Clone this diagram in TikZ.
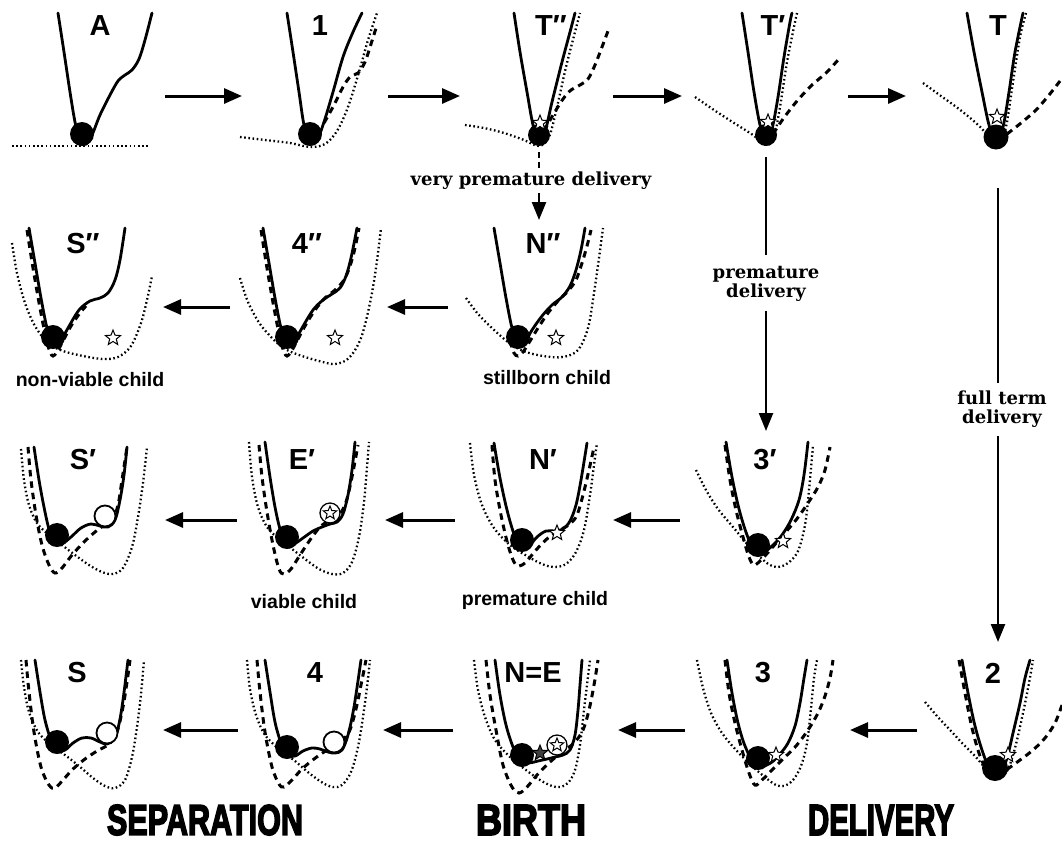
\documentclass[tikz,border=0pt]{standalone}
\usepackage{fontspec}
\usepackage{graphicx}
\usetikzlibrary{arrows.meta,shapes.geometric}
\newfontfamily\labfont{Liberation Sans}
\newfontfamily\serfont{DejaVu Serif}
\newfontfamily\heavyfont{Liberation Sans Bold}[FakeBold=4]
\tikzset{
  solidc/.style={line width=2.8pt, line join=round, line cap=round},
  dashc/.style={line width=3pt, dash pattern=on 6.5pt off 5pt},
  dotc/.style={line width=2.3pt, dash pattern=on 1.6pt off 2.6pt},
  arr/.style={line width=3pt, -{Triangle[length=18pt,width=15pt]}},
  varr/.style={line width=2.4pt, -{Triangle[length=18pt,width=14pt]}},
  vline/.style={line width=2.4pt},
  lab/.style={font=\labfont\bfseries\fontsize{29}{29}\selectfont, inner sep=0pt},
  small/.style={font=\labfont\bfseries\fontsize{19.5}{20}\selectfont, inner sep=0pt},
  ser/.style={font=\serfont\bfseries\fontsize{18}{22}\selectfont, inner sep=0pt, align=center},
  ballst/.style={circle, fill=black, minimum size=24pt, inner sep=0pt},
  stst/.style={star, star points=5, star point ratio=2.3, draw, fill=white, line width=1pt, minimum size=16pt, inner sep=0pt},
  dstst/.style={star, star points=5, star point ratio=2.3, draw, fill=black!75, line width=1pt, minimum size=16pt, inner sep=0pt},
  ocst/.style={circle, draw, fill=white, line width=1.8pt, minimum size=21pt, inner sep=0pt},
  pl/.style={smooth, tension=0.55}
}
\begin{document}
\begin{tikzpicture}[x=1pt,y=-1pt]
\useasboundingbox (0,0) rectangle (1062,847);
\fill[white] (0,0) rectangle (1062,847);

%================ ROW 1 ================
% A
\begin{scope}[shift={(82,137)}]
\draw[dotc] (-70,9) -- (66,9);
\draw[solidc] plot[pl] coordinates {(-24,-124) (-18,-85) (-12,-45) (-7,-15) (-2,5) (4,7) (10,-2) (18,-22) (28,-42) (36,-56) (43,-62) (50,-67) (57,-78) (63,-97) (70,-124)};
\node[ballst] (bA) at (0,-3) {};
\end{scope}
\node[lab] (lA) at (100,26) {A};
% 1
\begin{scope}[shift={(310,137)}]
\draw[dotc] plot[pl] coordinates {(-70,0) (-45,3) (-20,6) (0,10) (15,7) (27,-6) (38,-30) (49,-65) (58,-97) (67,-124)};
\draw[dashc] plot[pl] coordinates {(14,-14) (24,-32) (33,-50) (40,-60) (48,-64) (55,-75) (61,-93) (67,-112)};
\draw[solidc] plot[pl] coordinates {(-23,-124) (-17,-85) (-11,-45) (-6,-12) (0,6) (7,3) (14,-15) (23,-45) (33,-80) (43,-105) (52,-124)};
\node[ballst] (b1) at (0,-3) {};
\end{scope}
\node[lab] (l1) at (320,26) {1};
% T''
\begin{scope}[shift={(539,137)}]
\draw[dotc] plot[pl] coordinates {(-74,-12) (-55,-9) (-35,-4) (-15,3) (0,9) (10,0) (18,-30) (27,-70) (36,-105) (41,-124)};
\draw[dashc] plot[pl] coordinates {(5,-6) (14,-22) (24,-38) (32,-47) (41,-52) (49,-58) (56,-72) (63,-90) (69,-106)};
\draw[solidc] plot[pl] coordinates {(-25,-124) (-19,-85) (-12,-45) (-6,-12) (0,5) (6,-5) (13,-35) (23,-75) (31,-105) (36,-124)};
\node[ballst,minimum size=22pt] (bT2) at (0,-2) {};
\node[stst] (sT2) at (1,-14) {};
\end{scope}
\node[lab] (lT2) at (551,26) {T″};
% T'
\begin{scope}[shift={(766,137)}]
\draw[dotc] plot[pl] coordinates {(-71,-40) (-52,-27) (-32,-14) (-13,-2) (0,8) (8,0) (14,-30) (21,-75) (28,-110) (31,-124)};
\draw[dashc] plot[pl] coordinates {(7,-3) (17,-18) (31,-36) (46,-52) (60,-64) (72,-77)};
\draw[solidc] plot[pl] coordinates {(-24,-124) (-18,-85) (-12,-45) (-6,-12) (0,5) (6,-8) (12,-40) (18,-80) (24,-115) (26,-124)};
\node[ballst,minimum size=22pt] (bT1) at (0,-2) {};
\node[stst] (sT1) at (2,-15) {};
\end{scope}
\node[lab] (lT1) at (773,26) {T′};
% T
\begin{scope}[shift={(996,137)}]
\draw[dotc] plot[pl] coordinates {(-73,-54) (-55,-41) (-37,-28) (-20,-14) (-6,0) (3,7) (10,-10) (17,-55) (24,-100) (30,-124)};
\draw[dashc] plot[pl] coordinates {(11,-3) (25,-14) (40,-27) (53,-42) (64,-56)};
\draw[solidc] plot[pl] coordinates {(-29,-124) (-22,-85) (-14,-45) (-7,-12) (0,6) (7,-10) (13,-45) (19,-85) (27,-124)};
\node[ballst,minimum size=25pt] (bT) at (0,0) {};
\node[stst] (sT) at (1,-20) {};
\end{scope}
\node[lab] (lT) at (998,26) {T};

% row 1 arrows
\coordinate (a1s) at (165,96); \coordinate (a1e) at (242,96);
\coordinate (a2s) at (388,96); \coordinate (a2e) at (460,96);
\coordinate (a3s) at (613,96); \coordinate (a3e) at (682,96);
\coordinate (a4s) at (848,96); \coordinate (a4e) at (906,96);
\draw[arr] (a1s) -- (a1e);
\draw[arr] (a2s) -- (a2e);
\draw[arr] (a3s) -- (a3e);
\draw[arr] (a4s) -- (a4e);

% vertical: very premature
\coordinate (v1a) at (539,152); \coordinate (v1b) at (539,170);
\coordinate (v1c) at (539,193); \coordinate (v1d) at (539,220);
\draw[vline, dash pattern=on 6pt off 4pt] (v1a) -- (v1b);
\node[ser] (tvp) at (531,181) {very premature delivery};
\draw[varr] (v1c) -- (v1d);
% vertical: premature
\coordinate (v2a) at (766,157); \coordinate (v2b) at (766,255);
\coordinate (v2c) at (766,311); \coordinate (v2d) at (766,431);
\draw[vline] (v2a) -- (v2b);
\node[ser] (tpd) at (766,284) {premature\\[-3pt]delivery};
\draw[varr] (v2c) -- (v2d);
% vertical: full term
\coordinate (v3a) at (998,188); \coordinate (v3b) at (998,383);
\coordinate (v3c) at (998,436); \coordinate (v3d) at (998,642);
\draw[vline] (v3a) -- (v3b);
\node[ser] (tft) at (1002,409) {full term\\[-3pt]delivery};
\draw[varr] (v3c) -- (v3d);

%================ ROW 2 ================
% S''
\begin{scope}[shift={(53,338)}]
\draw[dotc] plot[pl] coordinates {(-41,-95) (-36,-65) (-28,-35) (-18,-12) (-5,5) (10,13) (30,18) (50,21) (65,19) (78,8) (88,-15) (94,-38) (99,-62)};
\draw[dashc] plot[pl] coordinates {(-26,-108) (-20,-70) (-13,-30) (-7,0) (-3,14) (0,18) (4,14) (10,3) (18,-12) (27,-25) (33,-32)};
\draw[solidc] plot[pl] coordinates {(-24,-110) (-18,-75) (-12,-40) (-6,-10) (0,7) (7,4) (15,-10) (26,-28) (37,-37) (47,-40) (55,-45) (62,-58) (67,-78) (72,-110)};
\node[ballst] (bS2) at (0,-1) {};
\node[stst] (sS2) at (60,0) {};
\end{scope}
\node[lab] (lS2) at (83,244) {S″};
% 4''
\begin{scope}[shift={(287,338)}]
\draw[dotc] plot[pl] coordinates {(-47,-60) (-39,-36) (-27,-14) (-12,3) (0,12) (15,18) (32,23) (48,26) (62,20) (74,0) (83,-35) (89,-70) (94,-110)};
\draw[dashc] plot[pl] coordinates {(-26,-108) (-20,-70) (-13,-30) (-7,0) (-3,14) (0,18) (4,14) (10,3) (18,-12) (28,-28) (38,-40) (48,-48) (57,-58) (63,-72) (68,-90) (72,-110)};
\draw[solidc] plot[pl] coordinates {(-24,-110) (-18,-75) (-12,-40) (-6,-10) (0,7) (7,4) (15,-10) (26,-28) (36,-38) (45,-44) (53,-50) (59,-62) (64,-80) (70,-110)};
\node[ballst] (b42) at (0,-1) {};
\node[stst] (s42) at (48,0) {};
\end{scope}
\node[lab] (l42) at (307,244) {4″};
% N''
\begin{scope}[shift={(518,338)}]
\draw[dotc] plot[pl] coordinates {(-52,-40) (-40,-24) (-25,-9) (-10,4) (5,13) (25,18) (45,19) (60,12) (70,-10) (76,-45) (81,-80) (85,-110)};
\draw[dashc] plot[pl] coordinates {(-8,3) (-4,15) (0,18) (5,14) (12,3) (20,-10) (30,-25) (40,-37) (50,-47) (58,-58) (64,-75) (69,-92) (73,-108)};
\draw[solidc] plot[pl] coordinates {(-24,-110) (-18,-75) (-12,-40) (-6,-10) (0,7) (7,4) (14,-8) (24,-22) (34,-33) (44,-41) (52,-52) (58,-68) (63,-88) (67,-110)};
\node[ballst] (bN2) at (0,-1) {};
\node[stst] (sN2) at (38,0) {};
\end{scope}
\node[lab] (lN2) at (543,244) {N″};

\coordinate (b1s) at (230,307); \coordinate (b1e) at (163,307);
\coordinate (b2s) at (448,307); \coordinate (b2e) at (387,307);
\draw[arr] (b1s) -- (b1e);
\draw[arr] (b2s) -- (b2e);
\node[small] (tnv) at (90,380) {non-viable child};
\node[small] (tsb) at (547,378) {stillborn child};

%================ ROW 3 ================
% S'
\begin{scope}[shift={(57,535)}]
\draw[dotc] plot[pl] coordinates {(-36,-86) (-33,-55) (-28,-30) (-20,-12) (-8,0) (5,10) (18,20) (32,30) (45,37) (56,39) (66,33) (75,12) (81,-18) (86,-52) (90,-88)};
\draw[dashc] plot[pl] coordinates {(-29,-88) (-26,-55) (-21,-20) (-15,10) (-8,30) (-2,38) (5,33) (15,20) (27,7) (38,-3) (46,-9) (55,-14) (61,-30) (65,-55) (70,-88)};
\draw[solidc] plot[pl] coordinates {(-23,-88) (-18,-55) (-13,-28) (-8,-6) (-2,8) (6,8) (14,2) (24,-7) (34,-11) (43,-9) (51,-8) (58,-15) (63,-35) (67,-60) (70,-88)};
\node[ballst] (bS1) at (0,0) {};
\node[ocst] (oS1) at (48,-19) {};
\end{scope}
\node[lab] (lS1) at (83,460) {S′};
% E'
\begin{scope}[shift={(287,537)}]
\draw[dotc] plot[pl] coordinates {(-38,-95) (-35,-60) (-29,-30) (-20,-10) (-8,2) (5,12) (18,22) (32,32) (45,37) (56,36) (65,25) (72,0) (77,-35) (80,-70) (82,-95)};
\draw[dashc] plot[pl] coordinates {(-28,-92) (-25,-60) (-20,-25) (-14,8) (-8,32) (-3,37) (4,32) (13,18) (23,3) (33,-10) (43,-17) (52,-22) (59,-35) (65,-60) (71,-92)};
\draw[solidc] plot[pl] coordinates {(-22,-95) (-17,-60) (-12,-30) (-7,-8) (-1,8) (7,7) (16,1) (26,-6) (35,-10) (43,-13) (50,-15) (56,-23) (61,-42) (65,-67) (68,-95)};
\node[ballst] (bE1) at (0,0) {};
\node[ocst, minimum size=20pt, line width=1.3pt] (oE1) at (43,-24) {};
\node[stst, minimum size=14pt] (sE1) at (43,-24) {};
\end{scope}
\node[lab] (lE1) at (302,460) {E′};
% N'
\begin{scope}[shift={(522,540)}]
\draw[dotc] plot[pl] coordinates {(-52,-97) (-48,-65) (-40,-35) (-28,-12) (-12,5) (5,16) (20,24) (32,27) (44,24) (54,12) (62,-10) (68,-45) (72,-75) (75,-97)};
\draw[dashc] plot[pl] coordinates {(-30,-95) (-27,-60) (-21,-25) (-14,5) (-8,22) (-3,26) (4,22) (14,10) (26,-2) (38,-10) (48,-16) (55,-25) (61,-45) (67,-70) (72,-93)};
\draw[solidc] plot[pl] coordinates {(-28,-97) (-22,-62) (-15,-30) (-8,-6) (-1,8) (7,6) (15,-3) (24,-9) (33,-9) (41,-11) (48,-19) (54,-35) (59,-60) (65,-97)};
\node[ballst] (bN1) at (0,0) {};
\node[stst] (sN1) at (35,-7) {};
\end{scope}
\node[lab] (lN1) at (543,460) {N′};
% 3'
\begin{scope}[shift={(758,545)}]
\draw[dotc] plot[pl] coordinates {(-62,-75) (-52,-55) (-40,-36) (-25,-18) (-10,0) (3,13) (12,20) (20,22) (30,18) (40,6) (47,-20) (51,-55) (55,-100)};
\draw[dashc] plot[pl] coordinates {(-33,-100) (-28,-65) (-22,-35) (-15,-8) (-9,12) (-4,20) (3,15) (13,4) (25,-10) (38,-25) (50,-42) (60,-58) (67,-75) (72,-98)};
\draw[solidc] plot[pl] coordinates {(-32,-103) (-26,-68) (-19,-36) (-11,-10) (-3,7) (6,7) (15,0) (24,-10) (33,-25) (41,-45) (46,-70) (50,-103)};
\node[ballst] (b31) at (0,0) {};
\node[stst] (s31) at (25,-4) {};
\end{scope}
\node[lab] (l31) at (765,460) {3′};

\coordinate (c1s) at (237,520); \coordinate (c1e) at (165,520);
\coordinate (c2s) at (455,520); \coordinate (c2e) at (385,520);
\coordinate (c3s) at (680,520); \coordinate (c3e) at (613,520);
\draw[arr] (c1s) -- (c1e);
\draw[arr] (c2s) -- (c2e);
\draw[arr] (c3s) -- (c3e);
\node[small] (tvc) at (304,602) {viable child};
\node[small] (tpc) at (535,600) {premature child};

%================ ROW 4 ================
% S
\begin{scope}[shift={(57,742)}]
\draw[dotc] plot[pl] coordinates {(-36,-82) (-33,-55) (-28,-30) (-19,-10) (-6,3) (8,13) (22,24) (36,36) (48,44) (58,46) (68,38) (75,15) (80,-15) (84,-48) (87,-82)};
\draw[dashc] plot[pl] coordinates {(-31,-82) (-28,-50) (-23,-10) (-16,25) (-8,43) (-2,46) (6,38) (16,27) (28,17) (40,9) (52,2) (60,-10) (66,-35) (70,-60) (73,-82)};
\draw[solidc] plot[pl] coordinates {(-22,-82) (-17,-50) (-12,-22) (-6,-2) (0,9) (8,8) (16,1) (25,-4) (34,-4) (43,0) (50,2) (57,-3) (62,-18) (66,-42) (71,-82)};
\node[ballst] (bS0) at (0,0) {};
\node[ocst] (oS0) at (50,-9) {};
\end{scope}
\node[lab] (lS0) at (77,673) {S};
% 4
\begin{scope}[shift={(287,747)}]
\draw[dotc] plot[pl] coordinates {(-40,-87) (-37,-58) (-31,-32) (-22,-12) (-8,2) (8,14) (22,26) (36,36) (46,40) (55,38) (64,25) (71,0) (76,-30) (80,-60) (83,-87)};
\draw[dashc] plot[pl] coordinates {(-30,-87) (-27,-55) (-22,-15) (-15,20) (-8,37) (-3,40) (5,33) (15,22) (27,12) (40,3) (52,-4) (62,-15) (69,-38) (74,-62) (79,-87)};
\draw[solidc] plot[pl] coordinates {(-22,-87) (-17,-55) (-12,-25) (-6,-4) (0,8) (8,9) (16,4) (25,1) (33,2) (41,5) (48,6) (55,3) (61,-12) (67,-40) (74,-87)};
\node[ballst] (b40) at (0,0) {};
\node[ocst] (o40) at (47,-5) {};
\end{scope}
\node[lab] (l40) at (315,673) {4};
% N=E
\begin{scope}[shift={(522,755)}]
\draw[dotc] plot[pl] coordinates {(-48,-95) (-44,-65) (-37,-38) (-27,-15) (-12,2) (4,15) (18,25) (30,31) (38,32) (46,28) (53,15) (58,-10) (62,-45) (65,-70) (68,-95)};
\draw[dashc] plot[pl] coordinates {(-36,-95) (-32,-60) (-26,-25) (-19,10) (-10,32) (-3,38) (5,32) (15,20) (28,7) (40,-3) (52,-12) (61,-25) (67,-45) (72,-70) (76,-95)};
\draw[solidc] plot[pl] coordinates {(-27,-95) (-22,-60) (-16,-30) (-9,-8) (-2,7) (7,8) (16,6) (25,4) (33,2) (41,0) (48,-5) (53,-20) (56,-45) (58,-70) (60,-95)};
\node[ballst] (bNE) at (0,0) {};
\node[dstst] (sNE) at (18,-2) {};
\node[ocst, minimum size=20pt, line width=1.3pt] (oNE) at (35,-10) {};
\node[stst, minimum size=14pt] (sNE2) at (35,-10) {};
\end{scope}
\node[lab] (lNE) at (533,673) {N=E};
% 3
\begin{scope}[shift={(758,758)}]
\draw[dotc] plot[pl] coordinates {(-61,-98) (-55,-70) (-47,-45) (-36,-25) (-22,-8) (-6,8) (8,20) (18,27) (26,28) (35,22) (43,8) (49,-15) (53,-50) (56,-80) (59,-98)};
\draw[dashc] plot[pl] coordinates {(-33,-98) (-29,-65) (-23,-35) (-16,-8) (-9,15) (-3,27) (4,22) (14,12) (26,0) (38,-12) (50,-28) (60,-45) (67,-62) (72,-80) (75,-98)};
\draw[solidc] plot[pl] coordinates {(-31,-98) (-26,-65) (-20,-35) (-13,-12) (-4,5) (5,8) (14,4) (22,-4) (30,-15) (37,-32) (42,-55) (46,-80) (49,-98)};
\node[ballst] (b30) at (0,0) {};
\node[stst] (s30) at (18,-3) {};
\end{scope}
\node[lab] (l30) at (763,673) {3};
% 2
\begin{scope}[shift={(995,768)}]
\draw[dotc] plot[pl] coordinates {(-70,-66) (-58,-52) (-45,-38) (-32,-24) (-20,-12) (-8,2) (2,10) (12,3) (20,-20) (28,-55) (34,-85) (38,-108)};
\draw[dashc] plot[pl] coordinates {(-36,-108) (-30,-75) (-23,-40) (-15,-12) (-6,5) (4,7) (14,0) (25,-8) (38,-18) (50,-30) (60,-45) (67,-63)};
\draw[solidc] plot[pl] coordinates {(-33,-108) (-27,-75) (-20,-42) (-12,-15) (-4,4) (5,6) (12,-10) (18,-35) (25,-65) (30,-90) (35,-108)};
\node[ballst, minimum size=26pt] (b20) at (0,0) {};
\node[stst] (s20) at (13,-13) {};
\end{scope}
\node[lab] (l20) at (993,673) {2};

\coordinate (d1s) at (238,730); \coordinate (d1e) at (163,730);
\coordinate (d2s) at (453,730); \coordinate (d2e) at (383,730);
\coordinate (d3s) at (685,730); \coordinate (d3e) at (618,730);
\coordinate (d4s) at (917,730); \coordinate (d4e) at (850,730);
\draw[arr] (d1s) -- (d1e);
\draw[arr] (d2s) -- (d2e);
\draw[arr] (d3s) -- (d3e);
\draw[arr] (d4s) -- (d4e);

% bottom titles
\node[inner sep=0pt] (tsep) at (205,820) {\resizebox{196pt}{30pt}{\heavyfont SEPARATION}};
\node[inner sep=0pt] (tbir) at (531,820) {\resizebox{110pt}{30pt}{\heavyfont BIRTH}};
\node[inner sep=0pt] (tdel) at (881,820) {\resizebox{146pt}{30pt}{\heavyfont DELIVERY}};
\end{tikzpicture}
\end{document}
